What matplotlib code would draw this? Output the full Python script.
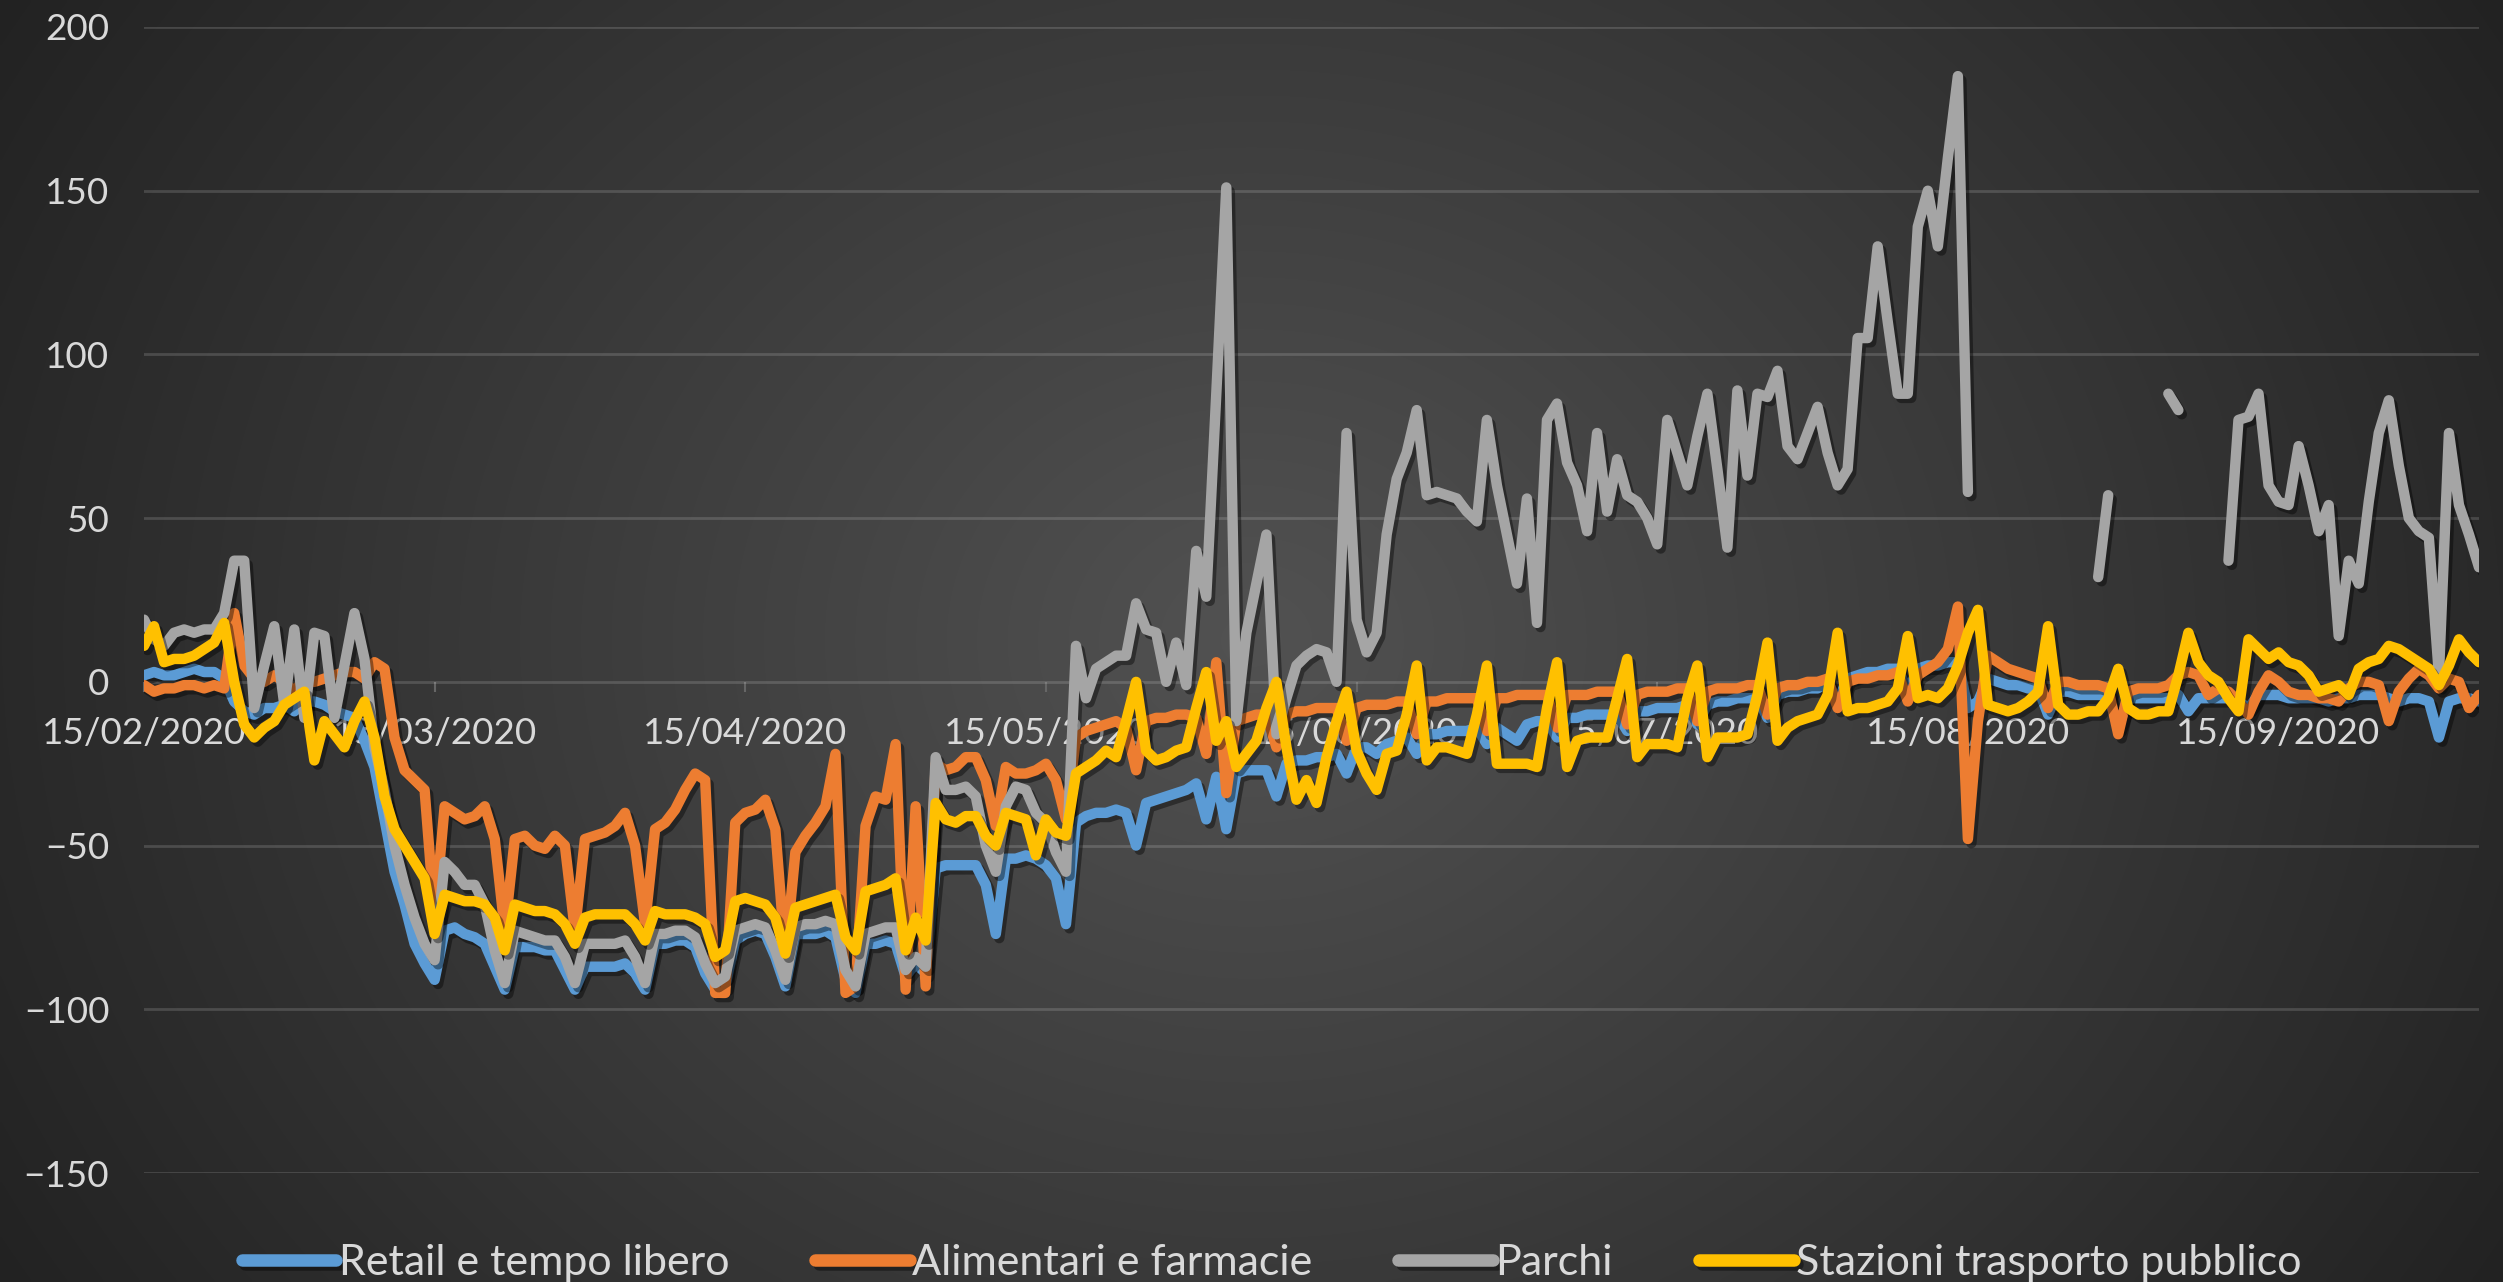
import numpy as np
import pandas as pd
import matplotlib
matplotlib.use('Agg')
import matplotlib.pyplot as plt
import matplotlib.dates as mdates
import matplotlib.patheffects as pe

nan = float('nan')

# Google mobility, Italia: variazione % rispetto al baseline, dal 15/02/2020
start_date = '2020-02-15'

retail = [
    2, 3, 2, 2, 3, 4, 3,
    3, 1, -6, -9, -10, -8, -8,
    -7, -9, -6, -6, -7, -9, -10,
    -11, -18, -26, -42, -58, -68, -80,
    -86, -91, -76, -75, -77, -78, -80,
    -87, -94, -81, -81, -81, -82, -82,
    -88, -94, -87, -87, -87, -87, -86,
    -89, -94, -80, -80, -79, -79, -81,
    -89, -94, -93, -79, -77, -76, -77,
    -84, -93, -77, -77, -77, -76, -78,
    -91, -95, -80, -80, -79, -80, -90,
    -86, -89, -57, -56, -56, -56, -56,
    -62, -77, -54, -54, -53, -54, -56,
    -60, -74, -43, -41, -40, -40, -39,
    -40, -50, -37, -36, -35, -34, -33,
    -31, -42, -29, -45, -28, -27, -27,
    -27, -35, -25, -24, -24, -23, -23,
    -22, -28, -20, -20, -22, -19, -18,
    -17, -22, -16, -16, -15, -15, -15,
    -14, -19, -14, -16, -18, -13, -12,
    -12, -17, -11, -11, -10, -10, -10,
    -10, -15, -9, -9, -8, -8, -8,
    -7, -13, -7, -6, -6, -5, -5,
    -5, -11, -4, -3, -3, -2, -2,
    0, -6, 1, 2, 3, 3, 4,
    4, -3, 4, 5, 5, 6, 6,
    -8, -6, 1, 0, -1, -1, -2,
    -2, -10, -3, -3, -4, -4, -4,
    -4, -14, -5, -5, -5, -5, -5,
    -4, -9, -5, -5, -5, -5, -6,
    -8, -4, -4, -4, -5, -5, -5,
    -5, -6, -5, -5, -4, -4, -4,
    -5, -6, -5, -5, -6, -17, -6,
    -5, -5, -6,
]

alimentari = [
    -1, -3, -2, -2, -1, -1, -2,
    -1, -2, 21, 5, 1, 0, 2,
    0, -3, 1, 0, 1, 2, 3,
    3, 1, 6, 4, -17, -27, -30,
    -33, -72, -38, -40, -42, -41, -38,
    -48, -76, -48, -47, -50, -51, -47,
    -50, -76, -48, -47, -46, -44, -40,
    -50, -74, -45, -43, -39, -33, -28,
    -30, -95, -95, -43, -40, -39, -36,
    -45, -84, -52, -47, -43, -38, -22,
    -95, -93, -44, -35, -36, -19, -94,
    -38, -93, -25, -27, -26, -23, -23,
    -30, -44, -26, -28, -28, -27, -25,
    -30, -42, -17, -15, -14, -13, -12,
    -14, -27, -12, -11, -11, -10, -10,
    -11, -22, 6, -34, -12, -11, -10,
    -10, -20, -10, -9, -9, -8, -8,
    -8, -18, -8, -7, -7, -7, -6,
    -6, -16, -6, -6, -5, -5, -5,
    -5, -15, -5, -5, -4, -4, -4,
    -4, -14, -4, -4, -4, -3, -3,
    -3, -13, -4, -3, -3, -3, -2,
    -2, -12, -3, -2, -2, -2, -1,
    -1, -10, -2, -1, -1, 0, 0,
    1, -8, 0, 1, 1, 2, 2,
    3, -6, 2, 4, 6, 10, 23,
    -48, -12, 8, 6, 4, 3, 2,
    1, -8, 0, 0, -1, -1, -1,
    -2, -16, -3, -2, -2, -2, -1,
    2, 3, 2, -4, -2, -3, -6,
    -10, -3, 2, 0, -3, -4, -4,
    -5, -5, -6, -2, 0, 0, -1,
    -12, -3, 1, 4, 2, -2, 1,
    0, -8, -4,
]

parchi = [
    19, 13, 11, 15, 16, 15, 16,
    16, 21, 37, 37, -8, 5, 17,
    -7, 16, -11, 15, 14, -11, 5,
    21, 7, -20, -33, -50, -62, -72,
    -80, -85, -55, -58, -62, -62, -68,
    -82, -92, -76, -77, -78, -79, -79,
    -84, -92, -80, -80, -80, -80, -79,
    -84, -92, -77, -77, -76, -76, -78,
    -86, -92, -90, -76, -75, -74, -75,
    -82, -91, -75, -74, -74, -73, -74,
    -88, -93, -77, -76, -75, -75, -88,
    -84, -87, -23, -33, -33, -32, -35,
    -50, -58, -38, -32, -33, -40, -43,
    -52, -58, 11, -5, 4, 6, 8,
    8, 24, 16, 15, 0, 12, -1,
    40, 26, 88, 151, -12, 15, 30,
    45, -16, -5, 5, 8, 10, 9,
    0, 76, 19, 9, 15, 45, 62,
    70, 83, 57, 58, 57, 56, 52,
    49, 80, 60, 45, 30, 56, 18,
    80, 85, 67, 60, 46, 76, 52,
    68, 57, 55, 50, 42, 80, 70,
    60, 75, 88, 65, 41, 89, 63,
    88, 87, 95, 72, 68, 76, 84,
    70, 60, 65, 105, 105, 133, 110,
    88, 88, 139, 150, 133, 160, 185,
    58, nan, nan, nan, nan, nan, nan,
    nan, nan, nan, nan, nan, nan, 32,
    57, nan, nan, nan, nan, nan, 88,
    83, nan, nan, nan, nan, 37, 80,
    81, 88, 60, 55, 54, 72, 60,
    46, 54, 14, 37, 30, 55, 76,
    86, 66, 50, 46, 44, 2, 76,
    54, 45, 35,
]

stazioni = [
    11, 17, 6, 7, 7, 8, 10,
    12, 18, 0, -13, -17, -14, -12,
    -7, -5, -3, -24, -12, -16, -20,
    -12, -6, -17, -35, -45, -50, -55,
    -60, -77, -65, -66, -67, -67, -68,
    -72, -82, -68, -69, -70, -70, -71,
    -74, -80, -72, -71, -71, -71, -71,
    -74, -79, -70, -71, -71, -71, -72,
    -74, -84, -82, -67, -66, -67, -68,
    -72, -83, -69, -68, -67, -66, -65,
    -78, -82, -64, -63, -62, -60, -82,
    -72, -79, -37, -42, -43, -41, -41,
    -47, -50, -40, -41, -42, -53, -42,
    -46, -47, -28, -26, -24, -21, -23,
    -12, 0, -21, -24, -23, -21, -20,
    -8, 3, -18, -12, -26, -22, -18,
    -8, 0, -20, -36, -30, -37, -23,
    -12, -3, -21, -28, -33, -22, -21,
    -10, 5, -24, -20, -20, -21, -22,
    -10, 5, -25, -25, -25, -25, -26,
    -8, 6, -26, -18, -17, -17, -17,
    -5, 7, -23, -19, -19, -19, -20,
    -5, 5, -23, -17, -17, -17, -16,
    -4, 12, -18, -14, -12, -11, -10,
    -4, 15, -9, -8, -8, -7, -6,
    -2, 14, -5, -4, -5, -2, 5,
    15, 22, -7, -8, -9, -8, -6,
    -3, 17, -7, -10, -10, -9, -9,
    -5, 4, -8, -10, -10, -9, -9,
    2, 15, 6, 2, 0, -5, -9,
    13, 10, 7, 9, 6, 5, 2,
    -3, -2, -1, -4, 4, 6, 7,
    11, 10, 8, 6, 4, -1, 5,
    13, 9, 6,
]

labels = ['Retail e tempo libero', 'Alimentari e farmacie', 'Parchi',
          'Stazioni trasporto pubblico']
colors = ['#5B9BD5', '#ED7D31', '#A5A5A5', '#FFC000']

dates = pd.date_range(start_date, periods=len(retail), freq='D')

plt.rcParams['font.family'] = ['Lato', 'DejaVu Sans']
text_color = '#d9d9d9'

fig = plt.figure(figsize=(25.03, 12.82), dpi=100)

# sfondo con sfumatura radiale scura
bg = fig.add_axes([0, 0, 1, 1], zorder=-10)
bg.axis('off')
yy, xx = np.mgrid[0:1:400j, 0:1:800j]
r = np.sqrt(((xx - 0.5) / 0.5) ** 2 + (0.6 * (yy - 0.5) / 0.5) ** 2)
t = np.clip(r / 1.17, 0, 1)
lum = (82 + (34 - 82) * t) / 255.0
bg.imshow(np.dstack([lum, lum, lum]), extent=[0, 1, 0, 1], aspect='auto',
          interpolation='bicubic', origin='lower')
bg.set_xlim(0, 1)
bg.set_ylim(0, 1)

ax = fig.add_axes([0.05753, 0.08502, 0.93288, 0.89392])
ax.patch.set_alpha(0)

series = [retail, alimentari, parchi, stazioni]
for i, (vals, lab, col) in enumerate(zip(series, labels, colors)):
    ax.plot(dates, vals, color=col, lw=7.5, label=lab,
            solid_joinstyle='round', solid_capstyle='round', zorder=3 + i,
            path_effects=[pe.SimpleLineShadow(offset=(2.5, -3), shadow_color='black',
                                              alpha=0.4),
                          pe.Normal()])

ax.set_ylim(-150, 200)
ax.set_xlim(dates[0], dates[-1])
ax.set_yticks(range(-150, 201, 50))
ax.set_axisbelow(True)
ax.yaxis.grid(True, color='white', alpha=0.15, lw=2)
ax.xaxis.grid(False)

for s in ['top', 'right', 'left', 'bottom']:
    ax.spines[s].set_visible(False)
ax.spines['bottom'].set_position(('data', 0))

ax.xaxis.set_major_locator(mdates.MonthLocator(bymonthday=15))
ax.xaxis.set_major_formatter(mdates.DateFormatter('%d/%m/%Y'))

ax.tick_params(axis='y', length=0, pad=25, labelsize=26.5, labelcolor=text_color)
ax.tick_params(axis='x', direction='out', length=7, width=1.5,
               color='#666666', pad=18, labelsize=26.5, labelcolor=text_color)

leg = fig.legend(loc='center', bbox_to_anchor=(0.508, 0.015), ncol=4, frameon=False,
                 prop={'size': 31}, handlelength=2.2, handletextpad=0.05,
                 columnspacing=2.0)
for txt in leg.get_texts():
    txt.set_color(text_color)
for h in leg.get_lines():
    h.set_linewidth(9)

fig.savefig('out.png', dpi=100)
